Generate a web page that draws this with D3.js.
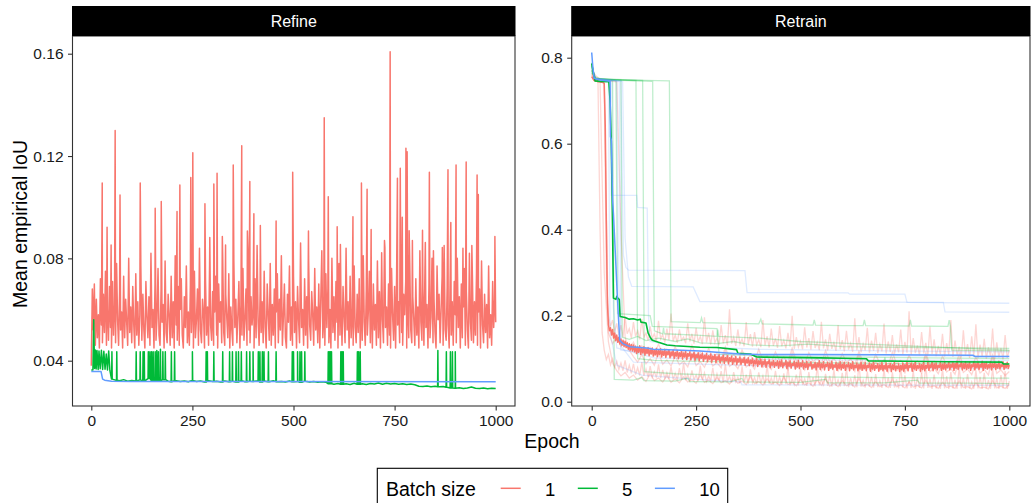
<!DOCTYPE html>
<html>
<head>
<meta charset="utf-8">
<script src="https://cdn.jsdelivr.net/npm/d3@7/dist/d3.min.js"></script>
<style>
  body { margin: 0; background: #fff; }
  text { font-family: "Liberation Sans", Arial, sans-serif; }
</style>
</head>
<body>
<svg id="chart" width="1031" height="503"></svg>
<script>
// ---- data ----
const batchSizes = [1, 5, 10]
const colors = { 1: '#F8766D', 5: '#00BA38', 10: '#619CFF' }
const xTicks = [0, 250, 500, 750, 1000]
const refineYTicks = [0.04, 0.08, 0.12, 0.16]
const retrainYTicks = [0, 0.2, 0.4, 0.6, 0.8]

// Refine, batch 1: one value every 2.5 epochs, plus the tall spikes
const refineRed = [
  0.038, 0.068, 0.052, 0.070, 0.046, 0.064, 0.049, 0.058, 0.045, 0.072, 0.054, 0.047, 0.066, 0.051, 0.075, 0.046, 0.060, 0.048, 0.069, 0.053,
  0.045, 0.071, 0.050, 0.062, 0.047, 0.078, 0.056, 0.046, 0.067, 0.052, 0.059, 0.045, 0.073, 0.049, 0.064, 0.055, 0.046, 0.080, 0.051, 0.061,
  0.047, 0.069, 0.054, 0.045, 0.074, 0.050, 0.063, 0.046, 0.058, 0.077, 0.048, 0.066, 0.052, 0.045, 0.071, 0.057, 0.049, 0.065, 0.046, 0.082,
  0.053, 0.060, 0.045, 0.070, 0.048, 0.057, 0.076, 0.050, 0.046, 0.068, 0.055, 0.062, 0.045, 0.079, 0.051, 0.047, 0.066, 0.058, 0.046, 0.073,
  0.049, 0.063, 0.045, 0.081, 0.054, 0.048, 0.069, 0.046, 0.060, 0.072, 0.050, 0.045, 0.065, 0.053, 0.077, 0.047, 0.059, 0.046, 0.070, 0.051,
  0.062, 0.045, 0.075, 0.049, 0.056, 0.068, 0.046, 0.084, 0.052, 0.047, 0.064, 0.058, 0.045, 0.071, 0.050, 0.061, 0.046, 0.078, 0.054, 0.048,
  0.067, 0.046, 0.059, 0.073, 0.050, 0.045, 0.070, 0.055, 0.063, 0.047, 0.080, 0.051, 0.046, 0.066, 0.057, 0.049, 0.074, 0.045, 0.061, 0.052,
  0.046, 0.079, 0.053, 0.064, 0.047, 0.058, 0.071, 0.045, 0.062, 0.050, 0.076, 0.048, 0.056, 0.068, 0.046, 0.083, 0.052, 0.047, 0.065, 0.054,
  0.060, 0.045, 0.072, 0.049, 0.085, 0.055, 0.046, 0.067, 0.051, 0.063, 0.047, 0.075, 0.053, 0.045, 0.070, 0.058, 0.048, 0.078, 0.046, 0.062,
  0.050, 0.068, 0.045, 0.059, 0.074, 0.047, 0.064, 0.052, 0.081, 0.046, 0.057, 0.070, 0.049, 0.045, 0.066, 0.055, 0.077, 0.048, 0.061, 0.046,
  0.073, 0.051, 0.063, 0.045, 0.069, 0.056, 0.047, 0.086, 0.053, 0.060, 0.046, 0.072, 0.050, 0.065, 0.045, 0.079, 0.054, 0.048, 0.067, 0.058,
  0.046, 0.076, 0.052, 0.061, 0.047, 0.070, 0.045, 0.064, 0.083, 0.049, 0.057, 0.046, 0.074, 0.053, 0.068, 0.047, 0.060, 0.045, 0.080, 0.051,
  0.065, 0.048, 0.071, 0.055, 0.045, 0.078, 0.050, 0.062, 0.046, 0.069, 0.057, 0.047, 0.084, 0.052, 0.063, 0.045, 0.073, 0.049, 0.058, 0.046,
  0.077, 0.053, 0.047, 0.066, 0.051, 0.072, 0.045, 0.060, 0.048, 0.081, 0.055, 0.046, 0.068, 0.050, 0.059, 0.075, 0.047, 0.064, 0.045, 0.070,
  0.052, 0.062, 0.046, 0.079, 0.049, 0.067, 0.045, 0.073, 0.056, 0.047, 0.087, 0.053, 0.061, 0.046, 0.070, 0.050, 0.045, 0.076, 0.058, 0.048,
  0.069, 0.045, 0.074, 0.054, 0.063, 0.047, 0.082, 0.051, 0.046, 0.066, 0.058, 0.071, 0.045, 0.060, 0.049, 0.078, 0.052, 0.047, 0.065, 0.056,
  0.046, 0.072, 0.050, 0.061, 0.045, 0.083, 0.055, 0.048, 0.068, 0.046, 0.075, 0.053, 0.062, 0.045, 0.070, 0.049, 0.057, 0.080, 0.047, 0.064,
  0.051, 0.045, 0.077, 0.056, 0.066, 0.047, 0.060, 0.073, 0.046, 0.085, 0.052, 0.048, 0.069, 0.054, 0.045, 0.074, 0.050, 0.063, 0.046, 0.071,
  0.058, 0.047, 0.080, 0.053, 0.065, 0.045, 0.070, 0.049, 0.061, 0.076, 0.046, 0.067, 0.052, 0.045, 0.082, 0.055, 0.048, 0.072, 0.047, 0.063,
  0.050, 0.074, 0.046, 0.059, 0.068, 0.045, 0.079, 0.054, 0.047, 0.066, 0.051, 0.062, 0.045, 0.077, 0.049, 0.058, 0.046, 0.071, 0.053, 0.064,
  0.055
]
const refineRedSpikes = [
  [27, 0.1095], [39, 0.0922], [49, 0.0852], [59, 0.130], [71, 0.1048], [121, 0.1095],
  [158, 0.0996], [173, 0.1022], [212, 0.0983], [219, 0.1087], [246, 0.1116], [251, 0.1213],
  [281, 0.1013], [293, 0.0882], [303, 0.1091], [311, 0.1133], [324, 0.0885], [332, 0.0852],
  [351, 0.1165], [372, 0.124], [386, 0.0907], [392, 0.110], [402, 0.0974], [418, 0.0928],
  [457, 0.0946], [498, 0.1137], [537, 0.0907], [576, 0.135], [586, 0.1041], [608, 0.0924],
  [616, 0.0854], [647, 0.0963], [668, 0.1095], [682, 0.107], [692, 0.0913], [718, 0.0822],
  [726, 0.0842], [739, 0.1608], [757, 0.1113], [764, 0.1152], [769, 0.0961], [778, 0.123],
  [781, 0.1217], [786, 0.0908], [794, 0.087], [819, 0.091], [826, 0.0862], [836, 0.1137],
  [846, 0.083], [868, 0.0842], [882, 0.1146], [889, 0.094], [902, 0.1165], [919, 0.084],
  [927, 0.1177], [941, 0.085], [954, 0.1126], [957, 0.105], [998, 0.0885]
]

// Refine, batch 5: noisy start, then a value every 10 epochs from epoch 50, plus spikes
const refineGreenStart = [
  [0, 0.0364], [4, 0.0364], [6, 0.0560], [8, 0.0370], [10, 0.0442], [12, 0.0368], [14, 0.0440],
  [17, 0.0366], [19, 0.0438], [22, 0.0369], [25, 0.0441], [28, 0.0366], [31, 0.0437],
  [34, 0.0367], [37, 0.0426], [40, 0.0364], [43, 0.0438], [46, 0.0362]
]
const refineGreen = [
  0.0328, 0.0324, 0.0322, 0.0326, 0.0320, 0.0323, 0.0321, 0.0325, 0.0320, 0.0330,
  0.0322, 0.0324, 0.0321, 0.0326, 0.0320, 0.0318, 0.0322, 0.0319, 0.0321, 0.0318,
  0.0323, 0.0319, 0.0321, 0.0317, 0.0322, 0.0319, 0.0320, 0.0317, 0.0321, 0.0318,
  0.0320, 0.0317, 0.0322, 0.0318, 0.0320, 0.0319, 0.0321, 0.0317, 0.0320, 0.0318,
  0.0322, 0.0318, 0.0319, 0.0317, 0.0321, 0.0318, 0.0319, 0.0316, 0.0320, 0.0317,
  0.0319, 0.0316, 0.0318, 0.0316, 0.0310, 0.0308, 0.0311, 0.0308, 0.0310, 0.0307,
  0.0312, 0.0308, 0.0310, 0.0307, 0.0311, 0.0309, 0.0313, 0.0308, 0.0312, 0.0309,
  0.0311, 0.0308, 0.0310, 0.0307, 0.0309, 0.0306, 0.0300, 0.0299, 0.0301, 0.0298,
  0.0300, 0.0298, 0.0299, 0.0296, 0.0293, 0.0292, 0.0294, 0.0291, 0.0293, 0.0297,
  0.0292, 0.0291, 0.0293, 0.0290, 0.0292, 0.0291
]
const refineGreenSpikes = [
  [51, 0.0435], [63, 0.0435], [111, 0.0435], [121, 0.0435], [128, 0.0435], [131, 0.0435],
  [141, 0.0435], [145, 0.0435], [149, 0.0435], [153, 0.0435], [158, 0.0435], [162, 0.044],
  [166, 0.0435], [171, 0.0445], [177, 0.0435], [183, 0.0435], [198, 0.0435], [206, 0.0435],
  [250, 0.0435], [284, 0.0435], [287, 0.0435], [303, 0.0435], [325, 0.0435], [342, 0.0435],
  [349, 0.0435], [358, 0.0435], [364, 0.0435], [371, 0.0435], [384, 0.0435], [392, 0.0435],
  [400, 0.0435], [413, 0.0435], [417, 0.0435], [423, 0.0435], [427, 0.0435], [438, 0.0435],
  [457, 0.0435], [497, 0.0435], [500, 0.0435], [510, 0.0435], [516, 0.0435], [520, 0.0435],
  [528, 0.0435], [586, 0.0435], [588, 0.0435], [591, 0.0435], [594, 0.0435], [617, 0.0435],
  [620, 0.0435], [623, 0.0435], [658, 0.0435], [661, 0.0435], [665, 0.0435], [857, 0.044],
  [878, 0.0435], [888, 0.0435], [893, 0.0435], [900, 0.0435]
]
// Refine, batch 10
const refineBlue = [
  [0, 0.0358], [24, 0.0358], [28, 0.0328], [33, 0.0324], [50, 0.0320], [100, 0.0319], [1000, 0.0318]
]

// Retrain, batch 1 mean: one value every 2.5 epochs
const retrainRedMean = [
  0.756, 0.752, 0.748, 0.746, 0.745, 0.745, 0.744, 0.744, 0.744, 0.743, 0.743, 0.742, 0.740, 0.640, 0.420, 0.230, 0.180, 0.165, 0.172, 0.155,
  0.168, 0.148, 0.160, 0.142, 0.155, 0.138, 0.150, 0.134, 0.146, 0.131, 0.143, 0.128, 0.140, 0.126, 0.137, 0.122, 0.135, 0.120, 0.133, 0.118,
  0.132, 0.116, 0.129, 0.112, 0.127, 0.115, 0.130, 0.110, 0.125, 0.113, 0.128, 0.108, 0.124, 0.112, 0.126, 0.107, 0.121, 0.111, 0.125, 0.106,
  0.120, 0.109, 0.124, 0.105, 0.119, 0.110, 0.123, 0.104, 0.118, 0.108, 0.122, 0.103, 0.117, 0.109, 0.121, 0.102, 0.116, 0.107, 0.120, 0.101,
  0.115, 0.106, 0.119, 0.100, 0.114, 0.105, 0.118, 0.099, 0.113, 0.104, 0.117, 0.098, 0.112, 0.106, 0.116, 0.097, 0.111, 0.103, 0.115, 0.096,
  0.110, 0.102, 0.114, 0.095, 0.109, 0.101, 0.113, 0.094, 0.108, 0.100, 0.112, 0.093, 0.107, 0.099, 0.111, 0.092, 0.106, 0.098, 0.110, 0.091,
  0.105, 0.097, 0.109, 0.090, 0.104, 0.096, 0.108, 0.089, 0.103, 0.095, 0.107, 0.088, 0.102, 0.094, 0.106, 0.087, 0.101, 0.093, 0.105, 0.086,
  0.100, 0.092, 0.104, 0.086, 0.099, 0.091, 0.103, 0.085, 0.098, 0.090, 0.102, 0.084, 0.097, 0.089, 0.101, 0.083, 0.096, 0.088, 0.100, 0.082,
  0.095, 0.087, 0.099, 0.081, 0.094, 0.086, 0.098, 0.080, 0.093, 0.088, 0.097, 0.079, 0.092, 0.085, 0.096, 0.080, 0.091, 0.084, 0.095, 0.078,
  0.094, 0.083, 0.097, 0.079, 0.090, 0.085, 0.096, 0.077, 0.092, 0.082, 0.095, 0.078, 0.089, 0.084, 0.094, 0.076, 0.091, 0.081, 0.096, 0.077,
  0.090, 0.082, 0.095, 0.076, 0.089, 0.080, 0.094, 0.075, 0.088, 0.083, 0.093, 0.076, 0.087, 0.079, 0.092, 0.074, 0.090, 0.081, 0.095, 0.075,
  0.088, 0.079, 0.093, 0.074, 0.087, 0.082, 0.092, 0.073, 0.089, 0.078, 0.094, 0.075, 0.086, 0.080, 0.091, 0.073, 0.088, 0.077, 0.093, 0.074,
  0.087, 0.078, 0.092, 0.073, 0.086, 0.081, 0.091, 0.072, 0.088, 0.077, 0.093, 0.074, 0.085, 0.079, 0.090, 0.072, 0.087, 0.076, 0.092, 0.073,
  0.086, 0.077, 0.091, 0.072, 0.085, 0.080, 0.090, 0.071, 0.087, 0.076, 0.092, 0.073, 0.084, 0.078, 0.089, 0.071, 0.086, 0.075, 0.091, 0.072,
  0.085, 0.076, 0.090, 0.071, 0.084, 0.079, 0.089, 0.070, 0.086, 0.075, 0.091, 0.072, 0.083, 0.077, 0.088, 0.070, 0.085, 0.074, 0.090, 0.071,
  0.086, 0.077, 0.092, 0.072, 0.085, 0.080, 0.090, 0.071, 0.087, 0.076, 0.093, 0.073, 0.084, 0.078, 0.089, 0.071, 0.086, 0.075, 0.091, 0.072,
  0.085, 0.078, 0.091, 0.073, 0.086, 0.079, 0.092, 0.072, 0.088, 0.077, 0.090, 0.074, 0.085, 0.080, 0.091, 0.073, 0.087, 0.076, 0.092, 0.074,
  0.086, 0.079, 0.093, 0.074, 0.087, 0.080, 0.091, 0.073, 0.089, 0.078, 0.094, 0.075, 0.086, 0.081, 0.092, 0.074, 0.088, 0.077, 0.093, 0.075,
  0.087, 0.078, 0.092, 0.073, 0.086, 0.081, 0.093, 0.074, 0.088, 0.079, 0.091, 0.075, 0.087, 0.080, 0.094, 0.073, 0.089, 0.078, 0.092, 0.076,
  0.086, 0.079, 0.093, 0.074, 0.088, 0.080, 0.092, 0.075, 0.087, 0.078, 0.094, 0.076, 0.086, 0.081, 0.093, 0.075, 0.089, 0.079, 0.092, 0.077,
  0.085
]
const retrainGreenMean = [
  [0, 0.787], [4, 0.765], [8, 0.746], [20, 0.745], [41, 0.744], [44, 0.700], [47, 0.600],
  [50, 0.400], [52, 0.241], [58, 0.238], [60, 0.245], [63, 0.240], [66, 0.238], [68, 0.198],
  [80, 0.196], [90, 0.192], [100, 0.193], [110, 0.190], [116, 0.192], [118, 0.185], [130, 0.183],
  [135, 0.160], [140, 0.150], [145, 0.143], [160, 0.138], [180, 0.132], [200, 0.130], [259, 0.1265],
  [300, 0.126], [347, 0.121], [350, 0.1125], [380, 0.111], [395, 0.104], [450, 0.103], [547, 0.102],
  [600, 0.101], [658, 0.100], [662, 0.095], [750, 0.094], [850, 0.093], [982, 0.092], [986, 0.0877],
  [1000, 0.0877]
]
const retrainBlueMean = [
  [0, 0.812], [3, 0.775], [6, 0.752], [20, 0.748], [44, 0.745], [45, 0.616], [47, 0.609],
  [50, 0.469], [52, 0.438], [57, 0.337], [61, 0.252], [67, 0.143], [75, 0.135], [84, 0.131],
  [92, 0.128], [132, 0.125], [147, 0.122], [200, 0.120], [259, 0.118], [356, 0.111], [400, 0.110],
  [522, 0.110], [700, 0.109], [913, 0.108], [918, 0.105], [1000, 0.105]
]

// Retrain, batch 1 single runs recorded every 5 epochs
const retrainRedRunsBy5 = [
  [
    0.762, 0.755, 0.750, 0.747, 0.745, 0.743, 0.740, 0.300, 0.200, 0.175,
    0.190, 0.162, 0.182, 0.155, 0.178, 0.150, 0.198, 0.158, 0.170, 0.148,
    0.185, 0.152, 0.165, 0.145, 0.192, 0.150, 0.160, 0.142, 0.175, 0.147,
    0.158, 0.140, 0.188, 0.146, 0.156, 0.138, 0.170, 0.144, 0.205, 0.141,
    0.155, 0.137, 0.168, 0.143, 0.150, 0.136, 0.182, 0.140, 0.158, 0.135,
    0.172, 0.139, 0.152, 0.134, 0.196, 0.138, 0.160, 0.133, 0.166, 0.137,
    0.148, 0.132, 0.178, 0.136, 0.155, 0.131, 0.215, 0.135, 0.150, 0.130,
    0.168, 0.134, 0.146, 0.129, 0.185, 0.133, 0.157, 0.128, 0.162, 0.132,
    0.144, 0.127, 0.190, 0.131, 0.152, 0.126, 0.170, 0.130, 0.147, 0.125,
    0.176, 0.129, 0.143, 0.124, 0.160, 0.128, 0.200, 0.123, 0.150, 0.127,
    0.141, 0.122, 0.173, 0.126, 0.148, 0.121, 0.164, 0.125, 0.139, 0.120,
    0.186, 0.124, 0.145, 0.119, 0.158, 0.123, 0.138, 0.118, 0.178, 0.122,
    0.143, 0.117, 0.165, 0.121, 0.136, 0.116, 0.194, 0.120, 0.150, 0.115,
    0.135, 0.119, 0.172, 0.114, 0.142, 0.118, 0.160, 0.113, 0.134, 0.117,
    0.182, 0.112, 0.140, 0.116, 0.155, 0.111, 0.133, 0.115, 0.168, 0.110,
    0.139, 0.114, 0.210, 0.109, 0.148, 0.113, 0.131, 0.108, 0.162, 0.112,
    0.137, 0.107, 0.175, 0.111, 0.145, 0.106, 0.130, 0.110, 0.158, 0.105,
    0.136, 0.109, 0.190, 0.104, 0.142, 0.108, 0.128, 0.103, 0.166, 0.107,
    0.134, 0.102, 0.152, 0.106, 0.180, 0.101, 0.133, 0.105, 0.146, 0.100,
    0.127, 0.104, 0.170, 0.099, 0.138, 0.103, 0.125, 0.098, 0.155, 0.102,
    0.120
  ],
  [
    0.764, 0.758, 0.752, 0.746, 0.400, 0.160, 0.120, 0.098, 0.110, 0.086,
    0.100, 0.080, 0.094, 0.075, 0.090, 0.072, 0.096, 0.068, 0.085, 0.066,
    0.088, 0.063, 0.079, 0.061, 0.092, 0.060, 0.076, 0.058, 0.083, 0.057,
    0.070, 0.056, 0.087, 0.055, 0.074, 0.054, 0.068, 0.053, 0.081, 0.052,
    0.066, 0.051, 0.078, 0.052, 0.090, 0.050, 0.064, 0.049, 0.073, 0.051,
    0.062, 0.048, 0.084, 0.050, 0.067, 0.047, 0.060, 0.049, 0.079, 0.046,
    0.065, 0.048, 0.071, 0.045, 0.088, 0.047, 0.059, 0.044, 0.069, 0.046,
    0.057, 0.043, 0.082, 0.045, 0.063, 0.042, 0.075, 0.044, 0.056, 0.041,
    0.068, 0.043, 0.060, 0.040, 0.086, 0.042, 0.055, 0.040, 0.072, 0.041,
    0.058, 0.039, 0.066, 0.041, 0.080, 0.038, 0.054, 0.040, 0.063, 0.038,
    0.076, 0.039, 0.053, 0.037, 0.069, 0.038, 0.057, 0.036, 0.083, 0.038,
    0.052, 0.036, 0.065, 0.037, 0.060, 0.035, 0.074, 0.037, 0.051, 0.035,
    0.067, 0.036, 0.078, 0.034, 0.055, 0.036, 0.062, 0.034, 0.088, 0.035,
    0.050, 0.033, 0.070, 0.035, 0.058, 0.033, 0.064, 0.034, 0.049, 0.032,
    0.075, 0.034, 0.056, 0.032, 0.068, 0.033, 0.052, 0.031, 0.081, 0.033,
    0.061, 0.031, 0.048, 0.032, 0.072, 0.030, 0.057, 0.032, 0.066, 0.031,
    0.085, 0.032, 0.053, 0.030, 0.063, 0.031, 0.047, 0.030, 0.077, 0.031,
    0.059, 0.030, 0.069, 0.031, 0.051, 0.030, 0.080, 0.031, 0.055, 0.030,
    0.064, 0.031, 0.046, 0.030, 0.073, 0.031, 0.058, 0.030, 0.067, 0.031,
    0.050, 0.030, 0.078, 0.031, 0.054, 0.030, 0.062, 0.031, 0.071, 0.030,
    0.048
  ]
]
// Retrain, batch 1 single runs recorded every 10 epochs
const retrainRedRunsBy10 = [
  [
    0.758, 0.748, 0.744, 0.742, 0.160, 0.135, 0.150, 0.128, 0.142, 0.120,
    0.138, 0.115, 0.130, 0.112, 0.126, 0.108, 0.134, 0.110, 0.122, 0.105,
    0.128, 0.103, 0.118, 0.100, 0.131, 0.106, 0.115, 0.098, 0.124, 0.102,
    0.112, 0.096, 0.127, 0.099, 0.110, 0.094, 0.120, 0.097, 0.108, 0.093,
    0.122, 0.096, 0.106, 0.092, 0.116, 0.095, 0.104, 0.090, 0.125, 0.094,
    0.103, 0.089, 0.114, 0.093, 0.101, 0.088, 0.119, 0.092, 0.100, 0.087,
    0.112, 0.091, 0.099, 0.086, 0.117, 0.090, 0.098, 0.085, 0.110, 0.089,
    0.097, 0.084, 0.115, 0.088, 0.096, 0.083, 0.108, 0.087, 0.095, 0.082,
    0.113, 0.086, 0.094, 0.081, 0.106, 0.085, 0.093, 0.080, 0.111, 0.084,
    0.092, 0.079, 0.104, 0.083, 0.091, 0.078, 0.109, 0.082, 0.090, 0.077,
    0.088
  ],
  [
    0.760, 0.749, 0.745, 0.300, 0.140, 0.090, 0.072, 0.060, 0.068, 0.055,
    0.062, 0.050, 0.058, 0.047, 0.065, 0.049, 0.055, 0.046, 0.060, 0.045,
    0.053, 0.044, 0.058, 0.046, 0.051, 0.043, 0.062, 0.045, 0.050, 0.042,
    0.056, 0.044, 0.049, 0.041, 0.054, 0.043, 0.048, 0.040, 0.059, 0.042,
    0.047, 0.039, 0.053, 0.041, 0.046, 0.038, 0.057, 0.040, 0.045, 0.037,
    0.052, 0.039, 0.044, 0.036, 0.050, 0.038, 0.055, 0.036, 0.043, 0.035,
    0.049, 0.037, 0.042, 0.034, 0.054, 0.036, 0.041, 0.033, 0.047, 0.035,
    0.040, 0.033, 0.052, 0.035, 0.039, 0.032, 0.046, 0.034, 0.038, 0.032,
    0.050, 0.034, 0.037, 0.031, 0.045, 0.033, 0.036, 0.031, 0.048, 0.033,
    0.035, 0.030, 0.044, 0.032, 0.034, 0.030, 0.049, 0.032, 0.036, 0.031,
    0.040
  ],
  [
    0.770, 0.758, 0.750, 0.748, 0.746, 0.745, 0.744, 0.400, 0.150, 0.120,
    0.105, 0.092, 0.110, 0.088, 0.100, 0.085, 0.115, 0.087, 0.097, 0.083,
    0.106, 0.086, 0.094, 0.081, 0.112, 0.084, 0.093, 0.080, 0.103, 0.083,
    0.091, 0.079, 0.118, 0.082, 0.090, 0.077, 0.101, 0.081, 0.089, 0.076,
    0.107, 0.080, 0.088, 0.075, 0.099, 0.079, 0.087, 0.074, 0.113, 0.078,
    0.086, 0.073, 0.097, 0.077, 0.085, 0.072, 0.104, 0.076, 0.084, 0.071,
    0.095, 0.075, 0.083, 0.070, 0.110, 0.074, 0.082, 0.069, 0.094, 0.073,
    0.081, 0.068, 0.100, 0.072, 0.080, 0.067, 0.093, 0.071, 0.079, 0.066,
    0.108, 0.070, 0.078, 0.065, 0.092, 0.069, 0.077, 0.064, 0.099, 0.068,
    0.076, 0.063, 0.091, 0.067, 0.075, 0.062, 0.105, 0.066, 0.074, 0.061,
    0.070
  ]
]
// Retrain, batch 5 single runs: [epoch, value]
const retrainGreenRuns = [
  [[0, 0.775], [6, 0.756], [20, 0.750], [100, 0.748], [186, 0.746], [190, 0.186], [260, 0.184], [263, 0.195],
   [266, 0.184], [400, 0.181], [405, 0.192], [408, 0.181], [500, 0.179], [530, 0.178], [533, 0.190], [536, 0.178],
   [600, 0.177], [650, 0.177], [653, 0.190], [656, 0.177], [760, 0.176], [763, 0.190], [766, 0.176], [853, 0.175],
   [856, 0.190], [859, 0.175], [862, 0.120], [1000, 0.118]],
  [[0, 0.782], [8, 0.752], [50, 0.746], [54, 0.052], [100, 0.050], [120, 0.056], [125, 0.049], [200, 0.048],
   [230, 0.055], [235, 0.047], [330, 0.046], [360, 0.054], [365, 0.046], [500, 0.045], [560, 0.052], [565, 0.044],
   [700, 0.044], [780, 0.050], [785, 0.043], [900, 0.043], [1000, 0.042]],
  [[0, 0.770], [8, 0.752], [70, 0.748], [73, 0.150], [90, 0.145], [110, 0.152], [130, 0.142], [160, 0.148],
   [200, 0.140], [230, 0.146], [260, 0.137], [300, 0.135], [340, 0.140], [380, 0.132], [450, 0.130], [520, 0.134],
   [600, 0.128], [700, 0.127], [800, 0.126], [900, 0.125], [1000, 0.124]],
  [[0, 0.768], [10, 0.750], [106, 0.747], [110, 0.100], [150, 0.096], [250, 0.094], [252, 0.108], [255, 0.094],
   [400, 0.092], [402, 0.105], [405, 0.092], [600, 0.090], [700, 0.089], [702, 0.103], [705, 0.089], [1000, 0.088]],
  [[0, 0.772], [10, 0.751], [122, 0.747], [126, 0.070], [200, 0.065], [300, 0.062], [400, 0.060], [500, 0.058],
   [700, 0.056], [1000, 0.055]],
  [[0, 0.765], [10, 0.749], [146, 0.745], [150, 0.165], [170, 0.158], [172, 0.172], [174, 0.158], [250, 0.155],
   [300, 0.152], [302, 0.168], [304, 0.152], [400, 0.148], [500, 0.140], [600, 0.136], [700, 0.132], [800, 0.128],
   [900, 0.124], [1000, 0.120]],
  [[0, 0.780], [8, 0.753], [58, 0.747], [62, 0.205], [140, 0.200], [145, 0.175], [300, 0.170], [305, 0.110],
   [500, 0.105], [1000, 0.100]]
]
// Retrain, batch 10 single runs: [epoch, value]
const retrainBlueRuns = [
  [[0, 0.790], [6, 0.752], [44, 0.748], [47, 0.480], [108, 0.480], [110, 0.452], [133, 0.450], [136, 0.200],
   [140, 0.140], [200, 0.130], [400, 0.122], [700, 0.118], [1000, 0.116]],
  [[0, 0.785], [8, 0.752], [70, 0.746], [76, 0.340], [82, 0.312], [88, 0.306], [367, 0.305], [372, 0.254],
   [614, 0.253], [618, 0.250], [750, 0.250], [755, 0.231], [1000, 0.229]],
  [[0, 0.780], [8, 0.751], [74, 0.745], [80, 0.380], [88, 0.290], [96, 0.268], [243, 0.267], [259, 0.233],
   [842, 0.231], [846, 0.209], [1000, 0.208]],
  [[0, 0.775], [10, 0.750], [48, 0.745], [52, 0.220], [60, 0.125], [150, 0.102], [300, 0.099], [600, 0.097],
   [1000, 0.096]],
  [[0, 0.780], [10, 0.750], [40, 0.745], [44, 0.160], [60, 0.085], [120, 0.062], [250, 0.052], [357, 0.046],
   [360, 0.039], [1000, 0.038]],
  [[0, 0.770], [10, 0.750], [66, 0.745], [70, 0.130], [100, 0.092], [300, 0.086], [500, 0.081], [700, 0.079],
   [1000, 0.077]],
  [[0, 0.780], [10, 0.752], [60, 0.746], [64, 0.300], [70, 0.120], [150, 0.112], [400, 0.108], [1000, 0.106]]
]

// ---- helpers ----
// values recorded at a fixed epoch step -> [epoch, value]
function sampled (start, step, values) {
  return values.map((v, i) => [start + i * step, v])
}
function merged (...parts) {
  return [].concat(...parts).sort((a, b) => a[0] - b[0])
}
// a spike leaves the series and comes straight back to the nearest recorded value
function pulses (base, spikes) {
  const out = []
  spikes.forEach(([e, v]) => {
    const near = base.reduce((a, b) => Math.abs(b[0] - e) < Math.abs(a[0] - e) ? b : a)
    out.push([e - 0.7, near[1]], [e, v], [e + 0.7, near[1]])
  })
  return out
}

// ---- layout ----
const svg = d3.select('#chart')
const font = '"Liberation Sans", Arial, sans-serif'
const ink = '#1a1a1a'
const frame = '#333333'

const greenBase = sampled(50, 10, refineGreen)

const panels = [
  {
    name: 'Refine', left: 72.5, right: 515, top: 36, bottom: 406,
    x: d3.scaleLinear().domain([0, 1000]).range([91.3, 495.7]),
    y: d3.scaleLinear().domain([0.04, 0.16]).range([360.7, 53.7]),
    yTicks: refineYTicks, fmt: d3.format('.2f'),
    faint: [],
    means: [
      { batch: 1, width: 1.5, points: merged(sampled(0, 2.5, refineRed), refineRedSpikes) },
      { batch: 5, width: 1.5, points: merged(refineGreenStart, greenBase, pulses(greenBase, refineGreenSpikes)) },
      { batch: 10, width: 1.5, points: refineBlue }
    ]
  },
  {
    name: 'Retrain', left: 571.7, right: 1030, top: 36, bottom: 406,
    x: d3.scaleLinear().domain([0, 1000]).range([591.7, 1009.3]),
    y: d3.scaleLinear().domain([0, 0.8]).range([401.7, 57.7]),
    yTicks: retrainYTicks, fmt: d3.format('.1f'),
    faint: [].concat(
      retrainRedRunsBy5.map(r => ({ batch: 1, points: sampled(0, 5, r) })),
      retrainRedRunsBy10.map(r => ({ batch: 1, points: sampled(0, 10, r) })),
      retrainGreenRuns.map(r => ({ batch: 5, points: r })),
      retrainBlueRuns.map(r => ({ batch: 10, points: r }))
    ),
    means: [
      { batch: 1, width: 1.5, points: sampled(0, 2.5, retrainRedMean) },
      { batch: 5, width: 1.6, points: retrainGreenMean },
      { batch: 10, width: 1.5, points: retrainBlueMean }
    ]
  }
]

panels.forEach((p, pi) => {
  const g = svg.append('g').attr('class', 'panel')
  const clipId = 'clip' + pi
  svg.append('clipPath').attr('id', clipId)
    .append('rect')
    .attr('x', p.left).attr('y', p.top)
    .attr('width', p.right - p.left).attr('height', p.bottom - p.top)

  const line = d3.line().x(d => p.x(d[0])).y(d => p.y(d[1]))
  const plot = g.append('g').attr('clip-path', 'url(#' + clipId + ')')

  plot.selectAll('.faint')
    .data(p.faint)
    .enter()
    .append('path')
    .attr('class', 'faint')
    .attr('d', d => line(d.points))
    .attr('fill', 'none')
    .attr('stroke', d => colors[d.batch])
    .attr('stroke-opacity', d => d.batch === 10 ? 0.2 : d.batch === 1 ? 0.3 : 0.25)
    .attr('stroke-width', 1.3)

  plot.selectAll('.mean')
    .data(p.means)
    .enter()
    .append('path')
    .attr('class', 'mean')
    .attr('d', d => line(d.points))
    .attr('fill', 'none')
    .attr('stroke', d => colors[d.batch])
    .attr('stroke-width', d => d.width)
    .attr('stroke-linejoin', 'round')

  // panel frame
  g.append('rect')
    .attr('x', p.left).attr('y', p.top)
    .attr('width', p.right - p.left).attr('height', p.bottom - p.top)
    .attr('fill', 'none').attr('stroke', frame).attr('stroke-width', 1.1)

  // strip
  g.append('rect')
    .attr('x', p.left - 0.5).attr('y', 6)
    .attr('width', p.right - p.left + 1).attr('height', p.top - 6)
    .attr('fill', '#000')
  g.append('text')
    .attr('x', (p.left + p.right) / 2).attr('y', 27)
    .attr('text-anchor', 'middle')
    .attr('fill', '#fff')
    .style('font-size', '16px')
    .text(p.name)

  // axes
  const yAxis = g.append('g')
    .attr('transform', 'translate(' + p.left + ',0)')
    .call(d3.axisLeft(p.y).tickValues(p.yTicks).tickFormat(p.fmt).tickSize(4.5).tickPadding(4.5))
  const xAxis = g.append('g')
    .attr('transform', 'translate(0,' + p.bottom + ')')
    .call(d3.axisBottom(p.x).tickValues(xTicks).tickFormat(d3.format('d')).tickSize(4.5).tickPadding(4.5))
  ;[yAxis, xAxis].forEach(a => {
    a.select('.domain').remove()
    a.selectAll('line').attr('stroke', frame).attr('stroke-width', 1.1)
    a.selectAll('text').attr('fill', ink).style('font-size', '15.5px').style('font-family', font)
  })
})

// axis titles
svg.append('text')
  .attr('transform', 'translate(27,224) rotate(-90)')
  .attr('text-anchor', 'middle')
  .attr('fill', '#000')
  .style('font-size', '19.5px')
  .text('Mean empirical IoU')
svg.append('text')
  .attr('x', 552).attr('y', 448)
  .attr('text-anchor', 'middle')
  .attr('fill', '#000')
  .style('font-size', '19.5px')
  .text('Epoch')

// legend
const legend = svg.append('g').attr('class', 'legend')
legend.append('rect')
  .attr('x', 377.3).attr('y', 468.3)
  .attr('width', 350.4).attr('height', 45)
  .attr('fill', '#fff').attr('stroke', '#000').attr('stroke-width', 1.1)
legend.append('text')
  .attr('x', 386).attr('y', 496)
  .attr('fill', '#000')
  .style('font-size', '19.5px')
  .text('Batch size')
let kx = 500.7
batchSizes.forEach(b => {
  legend.append('line')
    .attr('x1', kx).attr('x2', kx + 20)
    .attr('y1', 488.3).attr('y2', 488.3)
    .attr('stroke', colors[b]).attr('stroke-width', 1.5)
  const t = legend.append('text')
    .attr('x', kx + 44.3).attr('y', 496)
    .attr('fill', '#000')
    .style('font-size', '18.5px')
    .text(b)
  kx = kx + 44.3 + t.node().getComputedTextLength() + 22.5
})
</script>
</body>
</html>
